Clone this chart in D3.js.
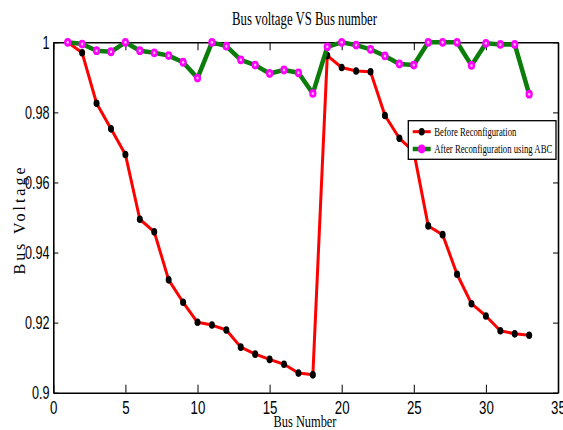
<!DOCTYPE html>
<html>
<head>
<meta charset="utf-8">
<script src="https://cdn.jsdelivr.net/npm/d3@7"></script>
<style>
  body { margin: 0; background: #fff; }
  svg { display: block; }
</style>
</head>
<body>
<div id="chart"></div>
<script>
// bus numbers and voltages (p.u.)
const buses = [1, 2, 3, 4, 5, 6, 7, 8, 9, 10, 11, 12, 13, 14, 15, 16, 17,
               18, 19, 20, 21, 22, 23, 24, 25, 26, 27, 28, 29, 30, 31, 32, 33];
const before = [1.0, 0.9970, 0.9826, 0.9753, 0.9680, 0.9495, 0.9459, 0.9322, 0.9258, 0.9201,
                0.9193, 0.9179, 0.9130, 0.9110, 0.9095, 0.9081, 0.9056, 0.9051, 0.9962, 0.9928,
                0.9918, 0.9916, 0.9791, 0.9726, 0.9688, 0.9476, 0.9451, 0.9338, 0.9254, 0.9219,
                0.9177, 0.9168, 0.9164];
const after = [1.0, 0.9995, 0.9976, 0.9973, 1.0, 0.9976, 0.9970, 0.9962, 0.9943, 0.9898,
               1.0, 0.9989, 0.9950, 0.9935, 0.9911, 0.9921, 0.9913, 0.9854, 0.9987, 1.0,
               0.9992, 0.9980, 0.9961, 0.9938, 0.9935, 1.0, 1.0, 1.0, 0.9934, 0.9997,
               0.9994, 0.9994, 0.9852];
const xTicks = [0, 5, 10, 15, 20, 25, 30, 35];
const yTicks = [0.9, 0.92, 0.94, 0.96, 0.98, 1];
const seriesNames = ["Before Reconfiguration", "After Reconfiguration using ABC"];

const width = 563, height = 430;
const plot = {left: 53.3, right: 558, top: 42.3, bottom: 392.7};

const svg = d3.select("#chart").append("svg")
    .attr("width", width)
    .attr("height", height);

svg.append("rect").attr("width", width).attr("height", height).attr("fill", "#fff");

const x = d3.scaleLinear().domain([0, 35]).range([plot.left, plot.right]);
const y = d3.scaleLinear().domain([0.9, 1]).range([plot.bottom, plot.top]);

// axes: inward ticks on all four sides, labels left and bottom only
const fmtY = d => d === 1 ? "1" : d3.format(".2~f")(d);

const gx = svg.append("g")
    .attr("transform", "translate(0," + plot.bottom + ")")
    .call(d3.axisBottom(x).tickValues(xTicks).tickSize(-8).tickSizeOuter(0).tickPadding(8));
gx.selectAll("text")
    .attr("transform", "scale(0.7,1)")
    .style("font-family", "'Liberation Sans', Arial, sans-serif")
    .style("font-size", "19px")
    .attr("fill", "#000");

const gy = svg.append("g")
    .attr("transform", "translate(" + plot.left + ",0)")
    .call(d3.axisLeft(y).tickValues(yTicks).tickFormat(fmtY).tickSize(-5).tickSizeOuter(0).tickPadding(5.5));
gy.selectAll("text")
    .attr("transform", "scale(0.7,1)")
    .style("font-family", "'Liberation Sans', Arial, sans-serif")
    .style("font-size", "18px")
    .attr("fill", "#000");

svg.append("g")
    .attr("transform", "translate(0," + plot.top + ")")
    .call(d3.axisTop(x).tickValues(xTicks).tickSize(-8).tickSizeOuter(0).tickFormat(""));
svg.append("g")
    .attr("transform", "translate(" + plot.right + ",0)")
    .call(d3.axisRight(y).tickValues(yTicks).tickSize(-5).tickSizeOuter(0).tickFormat(""));

svg.selectAll(".domain").attr("stroke", "#000").attr("stroke-width", 1.6);
svg.selectAll(".tick line").attr("stroke", "#000").attr("stroke-width", 1);

// series
const line = d3.line().x(d => x(d[0])).y(d => y(d[1]));
const beforePts = buses.map((b, i) => [b, before[i]]);
const afterPts = buses.map((b, i) => [b, after[i]]);

svg.append("path").datum(beforePts)
    .attr("d", line)
    .attr("fill", "none")
    .attr("stroke", "#ff0000")
    .attr("stroke-width", 3)
    .attr("stroke-linejoin", "round");
svg.append("g").selectAll("ellipse")
    .data(beforePts)
    .join("ellipse")
    .attr("cx", d => x(d[0]))
    .attr("cy", d => y(d[1]))
    .attr("rx", 3)
    .attr("ry", 3.8)
    .attr("fill", "#000");

svg.append("path").datum(afterPts)
    .attr("d", line)
    .attr("fill", "none")
    .attr("stroke", "#0a7d0a")
    .attr("stroke-width", 4.5)
    .attr("stroke-linejoin", "round");
const am = svg.append("g").selectAll("g")
    .data(afterPts)
    .join("g")
    .attr("transform", d => "translate(" + x(d[0]) + "," + y(d[1]) + ")");
am.append("ellipse").attr("rx", 3.6).attr("ry", 4.4).attr("fill", "#ff00ff");
am.append("ellipse").attr("rx", 1.2).attr("ry", 1.5).attr("fill", "#ffb8ff");

// title and axis labels
const serif = "'Liberation Serif', 'Times New Roman', serif";
svg.append("text")
    .attr("x", 304.5).attr("y", 25)
    .attr("text-anchor", "middle")
    .attr("textLength", 145).attr("lengthAdjust", "spacingAndGlyphs")
    .style("font-family", serif).style("font-size", "18px")
    .text("Bus voltage VS Bus number");

svg.append("text")
    .attr("x", 305).attr("y", 427)
    .attr("text-anchor", "middle")
    .attr("textLength", 63).attr("lengthAdjust", "spacingAndGlyphs")
    .style("font-family", serif).style("font-size", "16px")
    .text("Bus Number");

svg.append("text")
    .attr("transform", "translate(25,221) rotate(-90)")
    .attr("text-anchor", "middle")
    .attr("textLength", 107).attr("lengthAdjust", "spacing")
    .style("font-family", serif).style("font-size", "16px")
    .text("Bus Voltage");

// legend
const lg = svg.append("g").attr("transform", "translate(408.3,120.7)");
lg.append("rect")
    .attr("width", 147.7).attr("height", 38.6)
    .attr("fill", "#fff").attr("stroke", "#000").attr("stroke-width", 1.3);
const legendRows = [
  {name: seriesNames[0], y: 11, stroke: "#ff0000", sw: 3, mark: "#000", textLen: 82},
  {name: seriesNames[1], y: 28.3, stroke: "#0a7d0a", sw: 4.5, mark: "#ff00ff", textLen: 118}
];
legendRows.forEach(r => {
  lg.append("line")
      .attr("x1", 4.4).attr("x2", 22.4).attr("y1", r.y).attr("y2", r.y)
      .attr("stroke", r.stroke).attr("stroke-width", r.sw);
  lg.append("ellipse")
      .attr("cx", 13.4).attr("cy", r.y)
      .attr("rx", r.mark === "#000" ? 3 : 3.6).attr("ry", r.mark === "#000" ? 3.8 : 4.4)
      .attr("fill", r.mark);
  lg.append("text")
      .attr("x", 26).attr("y", r.y + 4)
      .attr("textLength", r.textLen).attr("lengthAdjust", "spacingAndGlyphs")
      .style("font-family", serif).style("font-size", "13px")
      .text(r.name);
});
</script>
</body>
</html>
